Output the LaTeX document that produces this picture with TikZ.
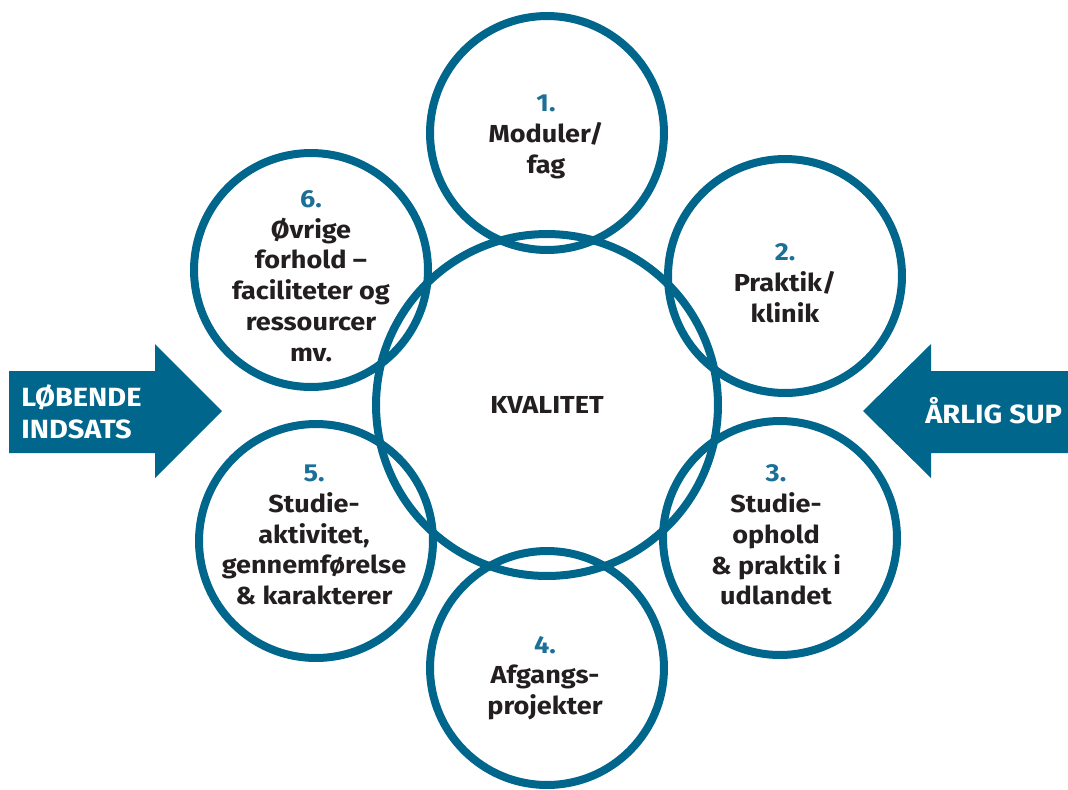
\documentclass[tikz,border=0pt]{standalone}
\usepackage{fontspec}
\setmainfont{Fira Sans}[FakeStretch=1.1]
\usetikzlibrary{positioning}
\definecolor{kblue}{RGB}{0,102,140}
\definecolor{knum}{RGB}{28,112,152}
\definecolor{ktext}{RGB}{35,31,32}

\begin{document}
\begin{tikzpicture}[x=0.02cm,y=-0.02cm,
                    main node/.style={circle,draw=kblue,line width=1.6mm,minimum size=4.68cm,inner sep=0pt},
                    big node/.style={main node,minimum size=6.84cm},
                    text node/.style={align=center,text=ktext,inner sep=0pt,font=\fontsize{14}{17.5}\selectfont\bfseries},
                    arrow text/.style={align=left,text=white,inner sep=0pt,font=\fontsize{15}{18}\selectfont\bfseries}]
  \useasboundingbox (0,0) rectangle (1068,789);
  %arrows%
  \fill[kblue] (9,371) -- (155,371) -- (155,344) -- (222,411) -- (155,478) -- (155,453) -- (9,453) -- cycle;
  \fill[kblue] (1068,371) -- (931,371) -- (931,344) -- (863,411) -- (931,478) -- (931,453) -- (1068,453) -- cycle;
  \node[arrow text,anchor=west] (in) at (21,412) {LØBENDE\\INDSATS};
  \node[arrow text,anchor=west] (sup) at (925,411) {ÅRLIG SUP};

  %circles%
  \node[big node] (k) at (547,405) {};
  \node[main node] (1) at (547,133) {};
  \node[main node] (2) at (785,276) {};
  \node[main node] (3) at (780,538) {};
  \node[main node] (4) at (547,668) {};
  \node[main node] (5) at (316,541) {};
  \node[main node] (6) at (311,270) {};

  \node[text node] (kt) at (k) {KVALITET};
  \node[text node] (t1) at (546,137) {\textcolor{knum}{1.}\\Moduler/\\fag};
  \node[text node] (t2) at (785,283) {\textcolor{knum}{2.}\\Praktik/\\klinik};
  \node[text node] (t3) at (776,535) {\textcolor{knum}{3.}\\Studie-\\ophold\\\& praktik i\\udlandet};
  \node[text node] (t4) at (545,678) {\textcolor{knum}{4.}\\Afgangs-\\projekter};
  \node[text node] (t5) at (314,535) {\textcolor{knum}{5.}\\Studie-\\aktivitet,\\gennemførelse\\\& karakterer};
  \node[text node] (t6) at (311,276) {\textcolor{knum}{6.}\\Øvrige\\forhold --\\faciliteter og\\ressourcer\\mv.};
\end{tikzpicture}
\end{document}
